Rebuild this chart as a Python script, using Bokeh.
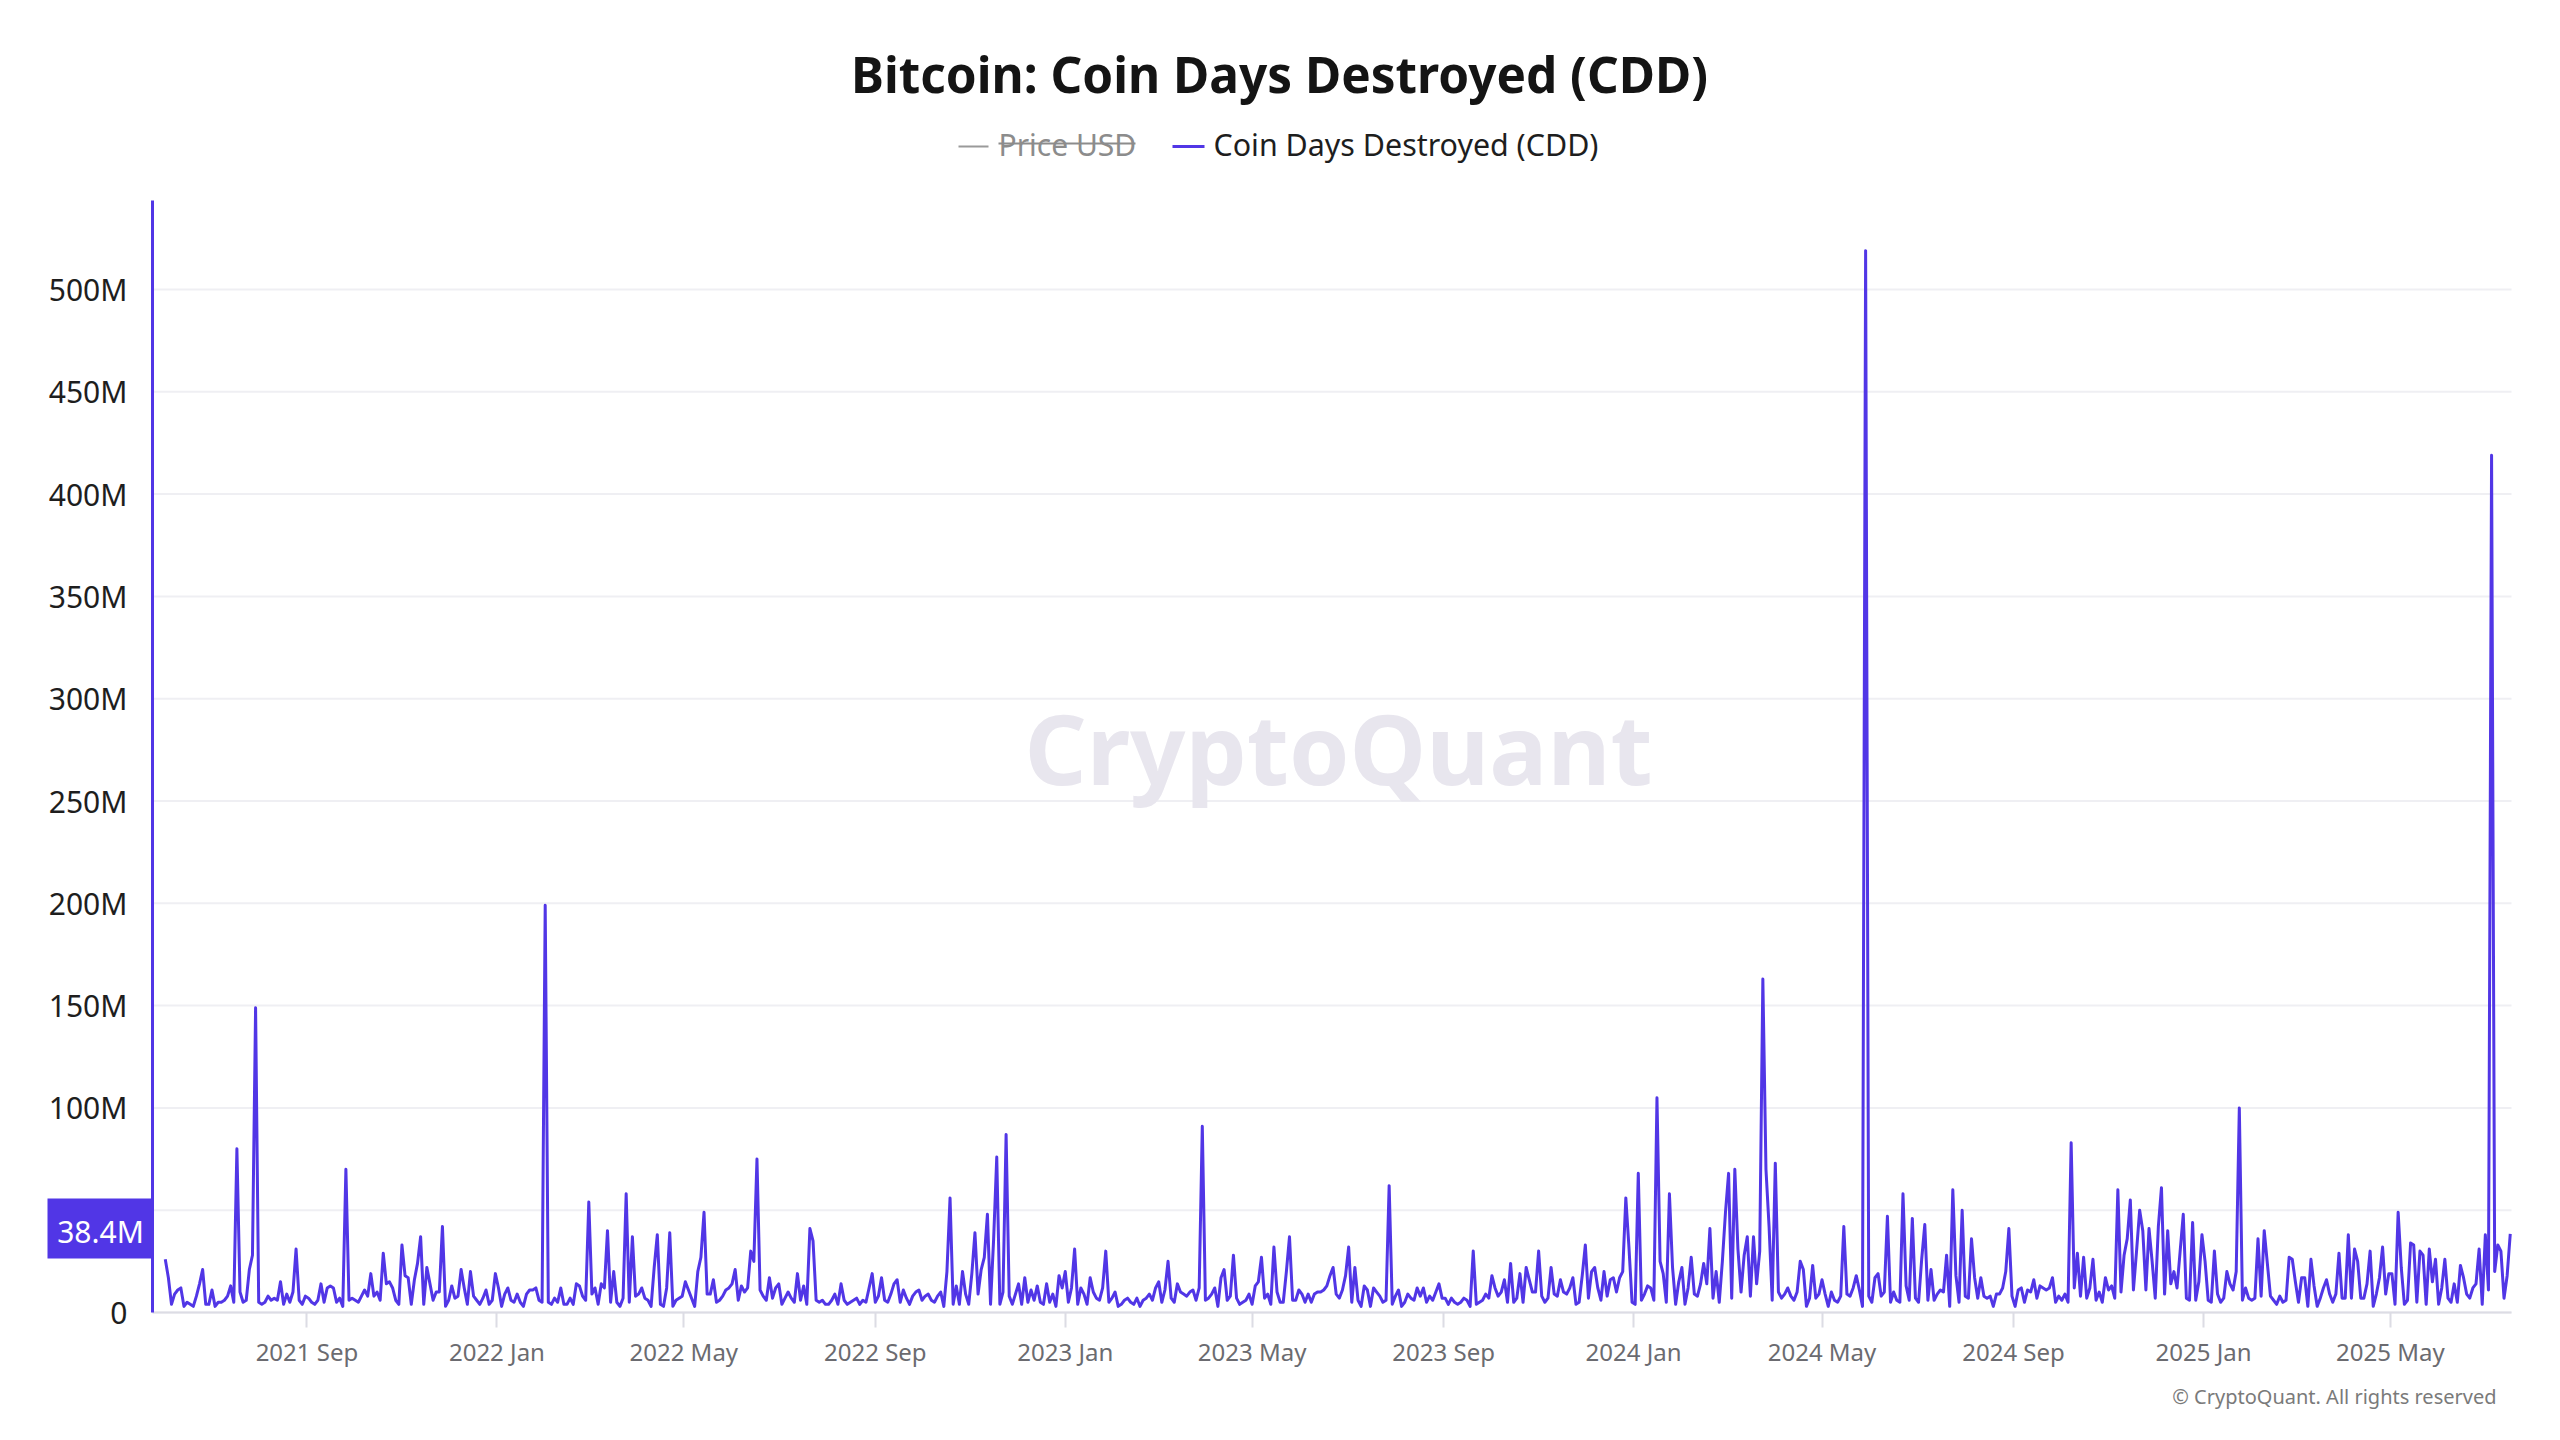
from datetime import datetime, timedelta
from bokeh.plotting import figure
from bokeh.models import (Range1d, FixedTicker, CustomJSTickFormatter, DatetimeTickFormatter,
                          Label, BoxAnnotation, ColumnDataSource)
from bokeh.embed import file_html
from bokeh.resources import INLINE

# ---------------- data ----------------
TITLE = "Bitcoin: Coin Days Destroyed (CDD)"
SERIES_NAME = "Coin Days Destroyed (CDD)"
HIDDEN_SERIES = "Price USD"
WATERMARK = "CryptoQuant"
FOOTER = "\u00a9 CryptoQuant. All rights reserved"
LAST_VALUE_LABEL = "38.4M"

START_DATE = datetime(2021, 6, 2)
STEP_DAYS = 2

# Coin Days Destroyed, millions, one value every 2 days
cdd_2021_2022 = [
    26, 17, 4, 9, 11, 12, 3, 5, 4, 3, 8, 14, 21, 4, 4, 11, 3, 5, 5, 6,
    8, 13, 5, 80, 10, 5, 6, 21, 28, 149, 5, 4, 5, 8, 6, 7, 6, 15, 4, 9,
    5, 10, 31, 6, 4, 8, 7, 5, 4, 6, 14, 5, 12, 13, 12, 5, 7, 3, 70, 6,
    7, 6, 5, 8, 11, 8, 19, 8, 10, 6, 29, 14, 15, 12, 6, 4, 33, 18, 17, 4,
    16, 24, 37, 4, 22, 14, 6, 10, 10, 42, 3, 6, 13, 7, 8, 21, 12, 4, 20, 8,
    6, 4, 7, 11, 4, 6, 19, 12, 3, 9, 12, 6, 5, 9, 5, 3, 9, 11, 11, 12,
    6, 5, 199, 5, 4, 7, 5, 12,
]
cdd_2022 = [
    4, 4, 7, 4, 14, 13, 8, 6, 54, 9, 12, 4, 14, 12, 40, 5, 20, 5, 3, 7,
    58, 5, 37, 8, 9, 12, 7, 6, 3, 22, 38, 4, 3, 12, 39, 3, 6, 7, 8, 15,
    11, 7, 3, 20, 27, 49, 9, 9, 16, 5, 6, 8, 11, 12, 14, 21, 6, 13, 10, 12,
    30, 25, 75, 11, 8, 6, 17, 7, 12, 14, 4, 7, 10, 7, 5, 19, 6, 13, 4, 41,
    35, 6, 5, 6, 4, 4, 6, 9, 4, 14, 6, 4, 5, 6, 7, 4, 6, 5, 12, 19,
    5, 8, 17, 6, 5, 9, 14, 16, 5, 11, 7, 4, 8, 10, 11, 6, 8, 9, 6, 5,
    8, 10, 3, 20, 56,
]
cdd_2022_2023 = [
    4, 13, 4, 20, 9, 4, 19, 39, 9, 21, 27, 48, 4, 36, 76, 4, 10, 87, 8, 4,
    9, 14, 4, 17, 5, 11, 6, 13, 5, 4, 14, 5, 9, 3, 18, 12, 20, 5, 12, 31,
    4, 12, 9, 4, 17, 10, 7, 6, 12, 30, 5, 7, 10, 3, 4, 6, 7, 5, 4, 7,
    3, 6, 7, 9, 6, 12, 15, 5, 11, 25, 7, 5, 14, 10, 9, 8, 10, 11, 6, 12,
    91, 6, 7, 9, 12, 3, 17, 21, 6, 8, 28, 7, 4, 5, 6, 9, 4, 13, 15, 27,
    7, 9, 4, 32, 10, 5, 5, 20, 37, 6, 6, 11, 9, 5, 9, 5, 9, 10, 10, 11,
    13, 18, 22, 9,
]
cdd_2023_2024 = [
    7, 11, 18, 32, 5, 22, 6, 3, 13, 11, 3, 12, 10, 8, 5, 6, 62, 4, 8, 11,
    3, 5, 9, 7, 6, 12, 8, 12, 5, 8, 6, 10, 14, 7, 7, 4, 7, 5, 4, 5,
    7, 6, 3, 30, 4, 5, 6, 9, 7, 18, 12, 8, 10, 16, 5, 24, 5, 7, 19, 5,
    22, 16, 10, 10, 30, 8, 5, 7, 22, 9, 8, 16, 10, 9, 12, 17, 4, 5, 18, 33,
    7, 20, 22, 12, 6, 20, 8, 16, 17, 10, 17, 20, 56, 32, 5, 4, 68, 6, 9, 13,
    12, 6, 105, 25, 19, 5, 58, 22, 4, 15, 22, 4, 12, 27, 9, 8, 14, 24, 14, 41,
    7, 20, 5, 25, 49, 68,
]
cdd_2024 = [
    7, 70, 31, 10, 28, 37, 8, 37, 14, 30, 163, 70, 42, 6, 73, 10, 7, 9, 12, 8,
    6, 10, 25, 21, 3, 7, 23, 7, 9, 16, 9, 3, 10, 6, 5, 8, 42, 9, 8, 12,
    18, 11, 3, 519, 8, 5, 17, 19, 8, 10, 47, 5, 10, 6, 5, 58, 13, 6, 46, 7,
    5, 26, 43, 6, 21, 6, 9, 11, 10, 28, 3, 60, 18, 5, 50, 8, 7, 36, 17, 7,
    17, 8, 7, 8, 3, 9, 9, 12, 20, 41, 8, 3, 11, 12, 5, 11, 10, 16, 7, 13,
    12, 11, 12, 17, 5, 8, 6, 9, 5, 83, 12, 29, 8, 27, 7, 12, 26, 6, 10, 5,
    17, 11, 13, 7, 60,
]
cdd_2024_2025 = [
    10, 28, 36, 55, 11, 30, 50, 40, 11, 41, 25, 7, 42, 61, 9, 40, 14, 20, 12, 30,
    48, 7, 6, 44, 6, 15, 38, 25, 6, 5, 30, 9, 5, 7, 20, 14, 11, 20, 100, 6,
    12, 7, 6, 7, 36, 8, 40, 24, 8, 6, 4, 8, 5, 6, 27, 26, 15, 5, 17, 17,
    3, 26, 13, 3, 7, 12, 16, 9, 5, 9, 29, 7, 7, 38, 7, 31, 25, 7, 7, 14,
    30, 3, 9, 17, 32, 9, 19, 19, 4, 49, 22, 4, 6, 34, 33, 5, 30, 28, 4, 31,
    15, 26, 4, 12, 26, 7, 5, 14, 5, 23, 17, 9, 7, 12, 14, 31, 4, 38, 11, 419,
    20, 33, 30, 7, 18, 38.4,
]
cdd_millions = cdd_2021_2022 + cdd_2022 + cdd_2022_2023 + cdd_2023_2024 + cdd_2024 + cdd_2024_2025

y_ticks_millions = [0, 50, 100, 150, 200, 250, 300, 350, 400, 450, 500]
x_tick_dates = ["2021-09-01", "2022-01-01", "2022-05-01", "2022-09-01", "2023-01-01",
                "2023-05-01", "2023-09-01", "2024-01-01", "2024-05-01", "2024-09-01",
                "2025-01-01", "2025-05-01"]

# ---------------- layout / style ----------------
W, H = 2560, 1440
PLOT_L, PLOT_R, PLOT_T, PLOT_B = 152, 2511, 200, 1312   # inner plot box, page pixels
Y_MAX = 543.5
PURPLE = "#5136E6"
FONT = "Noto Sans"
BASE_FIX = 0.37   # baseline correction (em) for alphabetic text

epoch = datetime(1970, 1, 1)
def ms(d):
    return (d - epoch).total_seconds() * 1000.0

dates = [START_DATE + timedelta(days=STEP_DAYS * i) for i in range(len(cdd_millions))]
x0 = ms(START_DATE - timedelta(days=8.2))
x1 = ms(dates[-1] + timedelta(days=0.8))
xpp = (x1 - x0) / (PLOT_R - PLOT_L)
ypp = Y_MAX / (PLOT_B - PLOT_T)
full_x = (x0 - PLOT_L * xpp, x1 + (W - PLOT_R) * xpp)
full_y = (0 - (H - PLOT_B) * ypp, Y_MAX + PLOT_T * ypp)

src = ColumnDataSource(dict(date=dates, cdd=cdd_millions))

p = figure(width=W, height=H, x_axis_type="datetime", output_backend="svg",
           toolbar_location=None, title=None,
           x_range=Range1d(*full_x), y_range=Range1d(*full_y), min_border=0)
p.outline_line_color = None
p.background_fill_color = "white"
p.border_fill_color = "white"
p.xgrid.visible = False
p.ygrid.visible = False

# horizontal grid lines across the inner plot box
p.segment(x0=[x0] * len(y_ticks_millions), x1=[x1] * len(y_ticks_millions),
          y0=y_ticks_millions, y1=y_ticks_millions,
          line_color="#efeff3", line_width=2, level="underlay")

# y axis
ya = p.yaxis[0]
ya.fixed_location = x0
ya.bounds = (0, Y_MAX)
ya.ticker = FixedTicker(ticks=y_ticks_millions)
ya.formatter = CustomJSTickFormatter(code="return tick == 0 ? '0' : tick.toFixed(0) + 'M';")
ya.major_label_text_font = FONT
ya.major_label_text_font_size = "30px"
ya.major_label_text_color = "#1e1e1e"
ya.axis_line_color = PURPLE
ya.axis_line_width = 3
ya.major_tick_out = 0
ya.major_tick_in = 0
ya.minor_tick_out = 0
ya.minor_tick_in = 0
ya.major_label_standoff = 25

# x axis
xa = p.xaxis[0]
xa.fixed_location = 0
xa.bounds = (x0, x1)
xa.ticker = FixedTicker(ticks=[ms(datetime.strptime(d, "%Y-%m-%d")) for d in x_tick_dates])
fmt = "%Y %b"
xa.formatter = DatetimeTickFormatter(days=fmt, months=fmt, years=fmt, hours=fmt, minutes=fmt)
xa.major_label_text_font = FONT
xa.major_label_text_font_size = "24px"
xa.major_label_text_color = "#6b6b70"
xa.axis_line_color = "#dcdce4"
xa.axis_line_width = 2
xa.major_tick_line_color = "#dcdce4"
xa.major_tick_line_width = 2
xa.major_tick_out = 15
xa.major_tick_in = 0
xa.minor_tick_out = 0
xa.minor_tick_in = 0
xa.major_label_standoff = 7


def text(x_page, baseline_page, s, size, color, align="left", bold=False, level="annotation"):
    p.add_layout(Label(x=x_page, y=(H - baseline_page) + BASE_FIX * size,
                       x_units="screen", y_units="screen", text=s,
                       text_align=align, text_baseline="alphabetic", text_font=FONT,
                       text_font_style="bold" if bold else "normal",
                       text_font_size=f"{size}px", text_color=color, level=level))


def box(l, r, t, b, color):
    p.add_layout(BoxAnnotation(left=l, right=r, top=H - t, bottom=H - b,
                               left_units="screen", right_units="screen",
                               top_units="screen", bottom_units="screen",
                               fill_color=color, fill_alpha=1, line_color=None))


# watermark
text(1338, 782, WATERMARK, 97, "#e8e6ee", align="center", bold=True, level="underlay")

# series
p.line("date", "cdd", source=src, line_color=PURPLE, line_width=3, line_join="round")

# title
text(1279, 92, TITLE, 49.5, "#141414", align="center", bold=True)

# legend
box(958, 988, 145, 147, "#9a9a9a")
text(998, 155, HIDDEN_SERIES, 30, "#8c8c8c")
box(998, 1135, 142, 144, "#8c8c8c")
box(1172, 1204, 144.5, 147.5, PURPLE)
text(1213, 155, SERIES_NAME, 30.4, "#1e1e1e")

# last value tag
box(47, 151, 1198, 1258, PURPLE)
text(100, 1242, LAST_VALUE_LABEL, 30, "white", align="center")

# footer
text(2496, 1403, FOOTER, 20, "#7a7a7a", align="right")

open("out.html", "w").write(file_html(p, INLINE))
